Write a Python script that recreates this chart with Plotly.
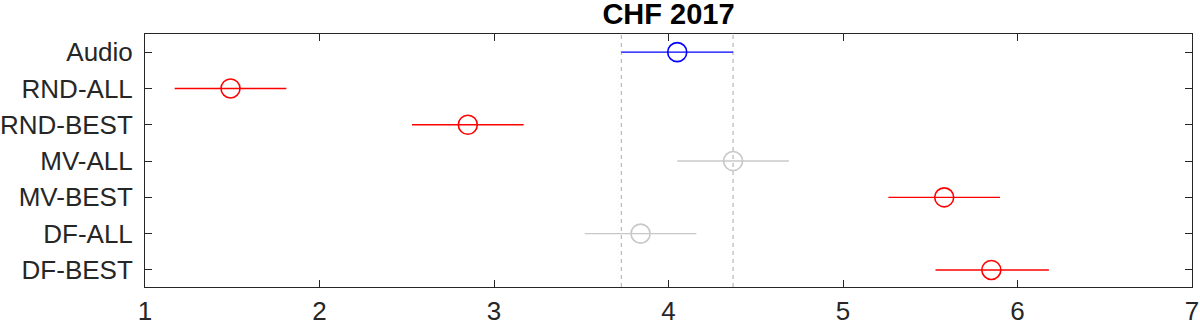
import plotly.graph_objects as go

categories = ["Audio", "RND-ALL", "RND-BEST", "MV-ALL", "MV-BEST", "DF-ALL", "DF-BEST"]
means = [4.05, 1.49, 2.85, 4.37, 5.58, 3.84, 5.85]
lower = [3.73, 1.17, 2.53, 4.05, 5.26, 3.52, 5.53]
upper = [4.37, 1.81, 3.17, 4.69, 5.90, 4.16, 6.18]
colors = ["#0000FF", "#FF0000", "#FF0000", "#C8C8C8", "#FF0000", "#C8C8C8", "#FF0000"]
x_ticks = [1, 2, 3, 4, 5, 6, 7]

fig = go.Figure()
for i, cat in enumerate(categories):
    fig.add_trace(go.Scatter(
        x=[means[i]], y=[i + 1], mode="markers",
        marker=dict(symbol="circle-open", size=19, color=colors[i], line=dict(width=1.6, color=colors[i])),
        error_x=dict(type="data", symmetric=False,
                     array=[upper[i] - means[i]], arrayminus=[means[i] - lower[i]],
                     color=colors[i], thickness=1.4, width=0),
        showlegend=False, name=cat,
    ))

for xv in (lower[0], upper[0]):
    fig.add_shape(type="line", xref="x", yref="paper", x0=xv, x1=xv, y0=0, y1=1,
                  line=dict(color="#BDBDBD", width=1.3, dash="4px,4px"), layer="below")

font_fam = "Liberation Sans, Arial, sans-serif"
axis_common = dict(showline=True, linecolor="#262626", linewidth=1, mirror="ticks",
                   ticks="inside", ticklen=7, tickcolor="#262626", tickwidth=1,
                   showgrid=False, zeroline=False, automargin=False,
                   tickfont=dict(family=font_fam, size=26, color="#262626"))

fig.update_layout(
    width=1200, height=324,
    margin=dict(l=145, r=8, t=34, b=37),
    paper_bgcolor="white", plot_bgcolor="white",
    title=dict(text="<b>CHF 2017</b>", x=0.5, xanchor="center", xref="paper",
               y=1 - 14 / 324, yanchor="middle", automargin=False,
               font=dict(family=font_fam, size=29, color="#000000")),
    xaxis=dict(range=[1, 7], tickvals=x_ticks, ticktext=[str(t) for t in x_ticks],
               ticklabelstandoff=1, **axis_common),
    yaxis=dict(range=[7.47, 0.5], tickvals=list(range(1, len(categories) + 1)), ticktext=categories,
               ticklabelstandoff=6, **axis_common),
)

fig.write_html("out.html")
